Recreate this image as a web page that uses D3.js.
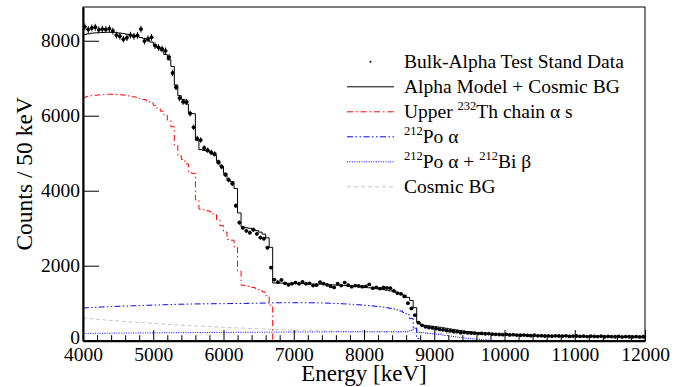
<!DOCTYPE html>
<html>
<head>
<meta charset="utf-8">
<script src="https://cdn.jsdelivr.net/npm/d3@7"></script>
<style>
  body { margin: 0; background: #fff; }
  svg { display: block; }
  text { font-family: "Liberation Serif", "Times New Roman", serif; fill: #000; }
</style>
</head>
<body>
<svg id="chart" width="697" height="387"></svg>
<script>
// Energy binning: 50 keV bins starting at 4000 keV
const binWidth = 50;
const eStart = 4000;
const eEnd = 12000;

const xTicks = [4000, 5000, 6000, 7000, 8000, 9000, 10000, 11000, 12000];
const yTicks = [0, 2000, 4000, 6000, 8000];

// Measured counts per 50 keV bin (4000-12000 keV)
const dataCounts = [
  8370, 8300, 8340, 8360, 8290, 8310, 8300, 8320, 8260, 8150,
  8120, 8040, 8080, 8150, 8120, 8140, 8310, 7990, 8050, 8090,
  7870, 7820, 7780, 7730, 7560, 7140, 6760, 6470, 6370, 6370,
  6060, 5690, 5390, 5350, 5140, 5080, 5020, 4980, 4760, 4640,
  4430, 4290, 4190, 3600, 3150, 3010, 2930, 2880, 2960, 2850,
  2750, 2720, 2480, 1950, 1630, 1560, 1620, 1530, 1490, 1520,
  1550, 1520, 1570, 1520, 1530, 1470, 1480, 1560, 1520, 1490,
  1450, 1420, 1520, 1470, 1550, 1480, 1440, 1470, 1460, 1440,
  1450, 1500, 1400, 1420, 1390, 1420, 1410, 1400, 1330, 1270,
  1250, 1180, 1000, 860, 680, 480, 410, 370, 350, 340,
  320, 300, 290, 270, 260, 245, 240, 215, 220, 210,
  205, 200, 190, 195, 185, 190, 175, 170, 165, 160,
  170, 155, 160, 150, 145, 150, 140, 135, 145, 130,
  135, 125, 130, 120, 130, 125, 120, 130, 115, 120,
  125, 115, 120, 110, 120, 115, 110, 120, 105, 115,
  110, 105, 115, 100, 110, 105, 100, 110, 100, 105
];

// Upper 232Th chain alphas, 4000-6700 keV
const thChain = [
  6495, 6517, 6534, 6547, 6554, 6561, 6570, 6574, 6572, 6569,
  6561, 6550, 6538, 6520, 6504, 6486, 6458, 6431, 6392, 6344,
  6277, 6199, 6121, 6024, 5885, 5708, 5211, 4932, 4834, 4717,
  4479, 4462, 3755, 3509, 3492, 3465, 3439, 3372, 3224, 3066,
  2898, 2700, 2680, 2500, 1850, 1480, 1460, 1450, 1420, 1390,
  1350, 1300, 1200, 950
];

// 212Po alpha, 4000-8800 keV
const po212Alpha = [
  875, 880, 885, 890, 895, 900, 903, 907, 911, 915,
  919, 922, 925, 929, 932, 935, 938, 941, 945, 948,
  951, 954, 957, 960, 963, 966, 969, 972, 974, 976,
  978, 980, 981, 982, 983, 984, 985, 986, 987, 988,
  989, 990, 991, 992, 993, 994, 995, 996, 998, 1000,
  1002, 1004, 1006, 1008, 1010, 1011, 1012, 1013, 1013, 1013,
  1013, 1013, 1012, 1012, 1011, 1011, 1010, 1008, 1005, 1002,
  999, 995, 991, 986, 981, 976, 970, 964, 958, 951,
  944, 936, 927, 917, 906, 894, 880, 864, 845, 822,
  792, 752, 690, 590, 330, 60
];

// 212Po alpha + 212Bi beta pile-up, 4000-10000 keV
const poBiSum = [
  195, 196, 197, 197, 198, 199, 200, 200, 201, 202,
  203, 203, 204, 205, 205, 206, 207, 207, 208, 209,
  209, 210, 211, 211, 212, 213, 213, 214, 215, 215,
  216, 216, 217, 218, 218, 219, 219, 220, 221, 221,
  222, 222, 223, 223, 224, 224, 225, 225, 226, 226,
  227, 227, 228, 228, 229, 229, 230, 230, 230, 231,
  231, 232, 232, 232, 233, 233, 234, 234, 234, 235,
  235, 235, 236, 236, 236, 237, 237, 237, 238, 238,
  238, 238, 239, 239, 239, 240, 240, 240, 241, 241,
  242, 244, 250, 270, 340, 225, 215, 205, 195, 185,
  175, 163, 150, 137, 124, 111, 98, 86, 74, 63,
  53, 44, 36, 29, 22, 16, 11, 7, 4, 2
];

// Cosmic-ray background, 4000-12000 keV
const cosmicBG = [
  600, 592, 584, 576, 568, 560, 552, 544, 536, 529,
  522, 515, 508, 501, 494, 488, 482, 476, 470, 464,
  458, 452, 446, 440, 434, 428, 422, 417, 412, 407,
  402, 397, 392, 387, 382, 377, 372, 368, 364, 360,
  356, 352, 348, 344, 340, 336, 332, 328, 324, 320,
  316, 312, 308, 304, 300, 297, 294, 291, 288, 285,
  282, 279, 276, 273, 271, 269, 267, 265, 263, 261,
  259, 257, 255, 253, 251, 249, 247, 245, 243, 241,
  239, 237, 235, 233, 231, 229, 227, 225, 223, 221,
  219, 217, 215, 213, 211, 209, 207, 205, 203, 201,
  199, 197, 195, 193, 191, 189, 187, 185, 183, 181,
  179, 177, 175, 173, 171, 169, 167, 165, 163, 161,
  159, 157, 155, 153, 151, 149, 147, 145, 143, 141,
  139, 137, 135, 133, 131, 129, 127, 125, 123, 121,
  120, 119, 118, 117, 116, 115, 114, 113, 112, 111,
  110, 109, 108, 107, 106, 105, 104, 103, 102, 101
];

// Full model = sum of all components
const nBins = dataCounts.length;
const components = [thChain, po212Alpha, poBiSum, cosmicBG];
const modelTotal = d3.range(nBins).map(i =>
  d3.sum(components, c => (i < c.length ? c[i] : 0)));

// ---- layout ----
const svg = d3.select("#chart");
const plot = { left: 83, right: 645, top: 7, bottom: 340.7 };

const x = d3.scaleLinear().domain([eStart, eEnd]).range([plot.left, plot.right]);
const y = d3.scaleLinear().domain([0, 8900]).range([plot.bottom, plot.top]);

svg.append("rect").attr("width", 697).attr("height", 387).attr("fill", "#fff");

svg.append("defs").append("clipPath").attr("id", "plotClip")
  .append("rect")
  .attr("x", plot.left).attr("y", plot.top)
  .attr("width", plot.right - plot.left).attr("height", plot.bottom - plot.top);

const g = svg.append("g").attr("clip-path", "url(#plotClip)");

function histPath(vals, dropToZero) {
  const pts = vals.map((v, i) => [eStart + i * binWidth, v]);
  const last = eStart + vals.length * binWidth;
  pts.push([last, vals[vals.length - 1]]);
  if (dropToZero) pts.push([last, 0]);
  return d3.line().x(d => x(d[0])).y(d => y(d[1])).curve(d3.curveStepAfter)(pts);
}

const styles = {
  th:     { stroke: "#ff0000", dash: "6 3 1.5 3" },
  po:     { stroke: "#0000ff", dash: "6 2.5 1.5 2.5 1.5 2.5" },
  poBi:   { stroke: "#0000ff", dash: "1 1.4" },
  cosmic: { stroke: "#c4c4c4", dash: "4 3" },
  model:  { stroke: "#000000", dash: null }
};

function drawHist(vals, st, drop) {
  g.append("path")
    .attr("d", histPath(vals, drop))
    .attr("fill", "none")
    .attr("stroke", st.stroke)
    .attr("stroke-width", 1)
    .attr("stroke-dasharray", st.dash);
}

drawHist(cosmicBG, styles.cosmic, false);
drawHist(poBiSum, styles.poBi, true);
drawHist(po212Alpha, styles.po, true);
drawHist(thChain, styles.th, true);
drawHist(modelTotal, styles.model, false);

// data points with Poisson error bars
const pts = g.append("g");
dataCounts.forEach((c, i) => {
  const e = eStart + (i + 0.5) * binWidth;
  const err = Math.sqrt(c);
  pts.append("line")
    .attr("x1", x(e)).attr("x2", x(e))
    .attr("y1", y(c - err)).attr("y2", y(c + err))
    .attr("stroke", "#000").attr("stroke-width", 1);
  pts.append("line")
    .attr("x1", x(e - binWidth / 2)).attr("x2", x(e + binWidth / 2))
    .attr("y1", y(c)).attr("y2", y(c))
    .attr("stroke", "#000").attr("stroke-width", 1);
  pts.append("circle")
    .attr("cx", x(e)).attr("cy", y(c)).attr("r", 1.9)
    .attr("fill", "#000");
});

// ---- frame and axes ----
svg.append("rect")
  .attr("x", plot.left).attr("y", plot.top)
  .attr("width", plot.right - plot.left).attr("height", plot.bottom - plot.top)
  .attr("fill", "none").attr("stroke", "#000").attr("stroke-width", 1);

const yAxis = svg.append("g")
  .attr("transform", `translate(${plot.left},0)`)
  .call(d3.axisLeft(y).tickValues(yTicks).tickFormat(d3.format("d"))
    .tickSizeInner(-16).tickSizeOuter(0).tickPadding(3));
yAxis.select(".domain").attr("stroke-width", 2);
yAxis.selectAll("text").attr("font-size", "19.5px")
  .style("font-family", '"Liberation Serif", serif');
// the zero label sits a little higher so it clears the energy labels
yAxis.selectAll(".tick").filter(d => d === 0).select("text").attr("dy", "0.12em");

const minorX = d3.range(eStart, eEnd + 1, 200).filter(v => v % 1000 !== 0);
svg.append("g")
  .attr("transform", `translate(0,${plot.bottom})`)
  .call(d3.axisBottom(x).tickValues(minorX).tickFormat("")
    .tickSizeInner(-5.5).tickSizeOuter(0))
  .select(".domain").remove();

const xAxis = svg.append("g")
  .attr("transform", `translate(0,${plot.bottom})`)
  .call(d3.axisBottom(x).tickValues(xTicks).tickFormat(d3.format("d"))
    .tickSizeInner(-10.7).tickSizeOuter(0).tickPadding(6));
xAxis.select(".domain").attr("stroke-width", 2);
xAxis.selectAll("text").attr("font-size", "19.5px")
  .style("font-family", '"Liberation Serif", serif');

svg.selectAll(".tick line").attr("stroke", "#000");

// axis titles
svg.append("text")
  .attr("x", (plot.left + plot.right) / 2).attr("y", 381)
  .attr("text-anchor", "middle").attr("font-size", "23px")
  .text("Energy [keV]");

svg.append("text")
  .attr("transform", `translate(32,${(plot.top + plot.bottom) / 2}) rotate(-90)`)
  .attr("text-anchor", "middle").attr("font-size", "23.5px")
  .text("Counts / 50 keV");

// ---- legend ----
const legend = svg.append("g");
const legX0 = 347, legX1 = 394, legText = 404, legBase = 68.3, legStep = 25;
const legFont = "19.5px", supFont = "12.5px";

function legRow(k) { return legBase + k * legStep; }
function legMid(k) { return legRow(k) - 6.5; }

legend.append("circle").attr("cx", (legX0 + legX1) / 2).attr("cy", legMid(0))
  .attr("r", 1).attr("fill", "#000");

const legLines = [null, styles.model, styles.th, styles.po, styles.poBi, styles.cosmic];
legLines.forEach((st, k) => {
  if (!st) return;
  legend.append("line")
    .attr("x1", legX0).attr("x2", legX1)
    .attr("y1", legMid(k)).attr("y2", legMid(k))
    .attr("stroke", st.stroke).attr("stroke-width", 1)
    .attr("stroke-dasharray", st.dash);
});

function legLabel(k, parts) {
  const t = legend.append("text").attr("x", legText).attr("y", legRow(k))
    .attr("font-size", legFont);
  parts.forEach(p => {
    const ts = t.append("tspan").text(p.t);
    if (p.sup) ts.attr("font-size", supFont).attr("dy", -8);
    else if (p.after) ts.attr("dy", 8);
  });
}

legLabel(0, [{ t: "Bulk-Alpha Test Stand Data" }]);
legLabel(1, [{ t: "Alpha Model + Cosmic BG" }]);
legLabel(2, [{ t: "Upper " }, { t: "232", sup: true }, { t: "Th chain \u03b1 s", after: true }]);
legLabel(3, [{ t: "212", sup: true }, { t: "Po \u03b1", after: true }]);
legLabel(4, [{ t: "212", sup: true }, { t: "Po \u03b1 + ", after: true }, { t: "212", sup: true }, { t: "Bi \u03b2", after: true }]);
legLabel(5, [{ t: "Cosmic BG" }]);
</script>
</body>
</html>
